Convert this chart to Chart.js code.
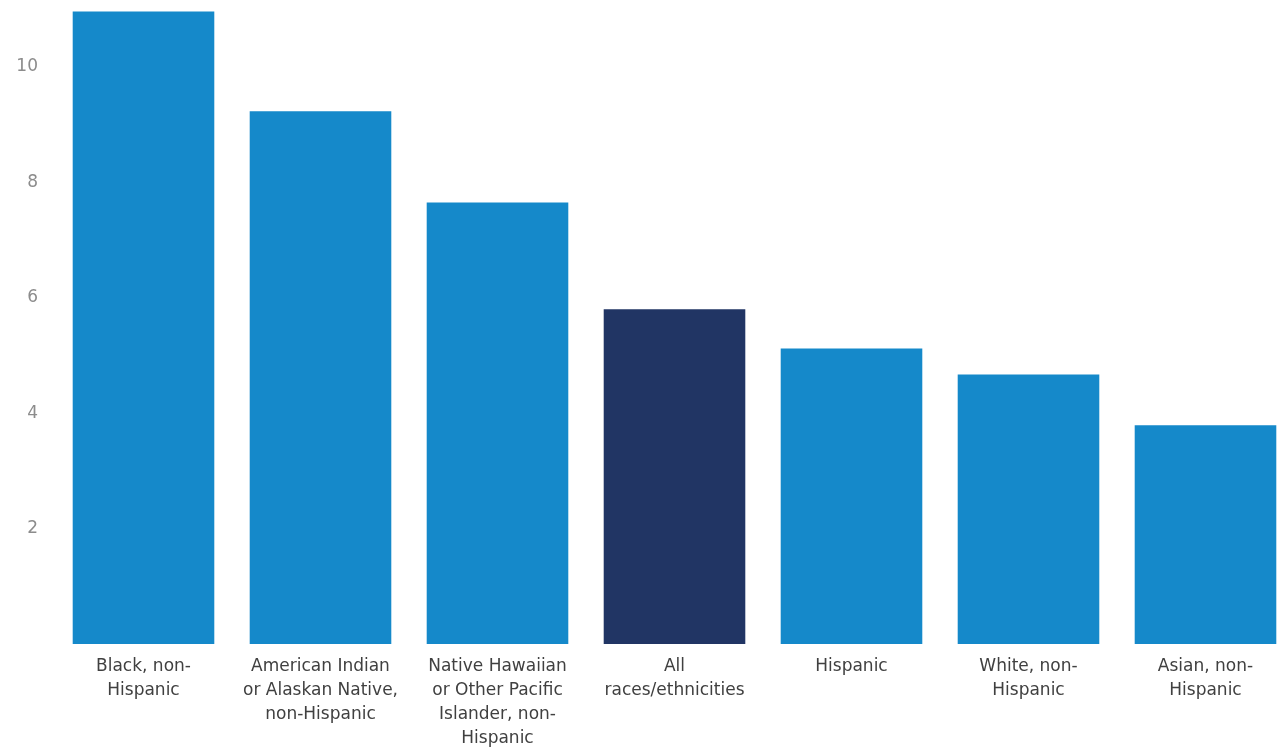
<!DOCTYPE html>
<html>
<head>
<meta charset="utf-8">
<script src="https://cdn.jsdelivr.net/npm/chart.js@4"></script>
<style>
  html, body { margin: 0; padding: 0; background: #fff; overflow: hidden; }
  #wrap { position: relative; top: -10px; width: 1294px; height: 757px; }
</style>
</head>
<body>
<div id="wrap"><canvas id="myChart"></canvas></div>
<script>
// Categories (multi-line labels) and rates
const groups = [
  ['Black, non-', 'Hispanic'],
  ['American Indian', 'or Alaskan Native,', 'non-Hispanic'],
  ['Native Hawaiian', 'or Other Pacific', 'Islander, non-', 'Hispanic'],
  ['All', 'races/ethnicities'],
  ['Hispanic'],
  ['White, non-', 'Hispanic'],
  ['Asian, non-', 'Hispanic']
];
const rates = [10.96, 9.23, 7.65, 5.8, 5.12, 4.67, 3.79];
const yTicks = [2, 4, 6, 8, 10];

// highlight the overall bar in navy
const barColors = groups.map(g => g[0] === 'All' ? '#213564' : '#1589ca');

const ctx = document.getElementById('myChart').getContext('2d');

var myChart = new Chart(ctx, {
  type: 'bar',
  data: {
    labels: groups,
    datasets: [{
      data: rates,
      backgroundColor: barColors,
      barPercentage: 0.8,
      categoryPercentage: 1.0
    }]
  },
  options: {
    responsive: true,
    maintainAspectRatio: false,
    animation: false,
    plugins: {
      legend: { display: false },
      tooltip: { enabled: false }
    },
    scales: {
      x: {
        grid: { display: false },
        border: { display: false },
        ticks: {
          color: '#404040',
          padding: 3,
          maxRotation: 0,
          autoSkip: false,
          font: { family: 'DejaVu Sans', size: 17, lineHeight: 1.41 }
        },
        afterFit: function(scale) { scale.height = 103; }
      },
      y: {
        min: 0,
        max: 11,
        grid: { display: false },
        border: { display: false },
        afterBuildTicks: function(scale) {
          scale.ticks = yTicks.map(v => ({ value: v }));
        },
        ticks: {
          color: '#8c8c8c',
          padding: 9,
          font: { family: 'DejaVu Sans', size: 17 }
        },
        afterFit: function(scale) { scale.width = 55; }
      }
    }
  }
});
</script>
</body>
</html>
